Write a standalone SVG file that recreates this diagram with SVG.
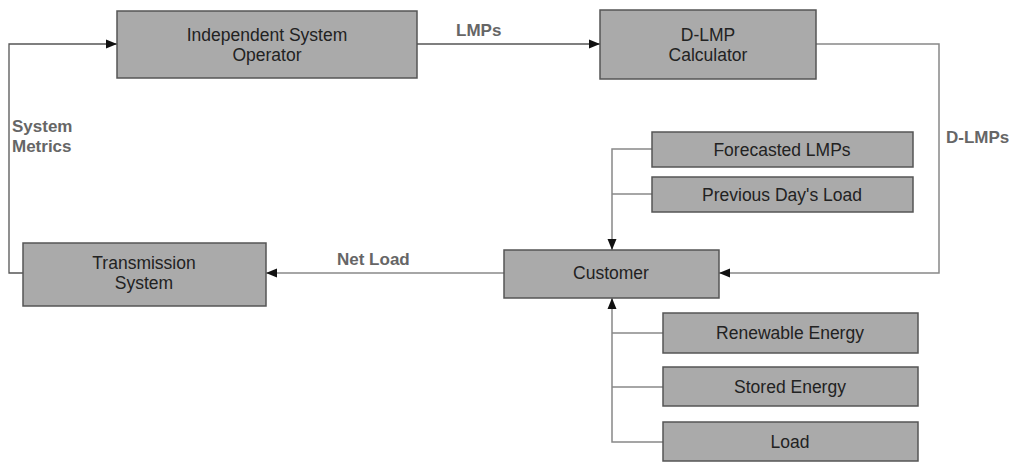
<svg xmlns="http://www.w3.org/2000/svg" width="1013" height="462" viewBox="0 0 1013 462">
  <style>
    .box { fill: #aaaaaa; stroke: #555555; stroke-width: 1.5; }
    .nt { font-family: "Liberation Sans", Arial, sans-serif; font-size: 17.5px; fill: #222222; text-anchor: middle; }
    .lbl { font-family: "Liberation Sans", Arial, sans-serif; font-size: 17px; font-weight: bold; fill: #666666; }
    .ln { fill: none; stroke: #555555; stroke-width: 1.3; }
    .ln2 { fill: none; stroke: #888888; stroke-width: 1.5; }
  </style>
  <defs>
    <marker id="arr" markerUnits="userSpaceOnUse" markerWidth="12" markerHeight="10" refX="11" refY="5" orient="auto">
      <path d="M0,0.5 L11,5 L0,9.5 Z" fill="#111111"/>
    </marker>
  </defs>
  <rect width="1013" height="462" fill="#ffffff"/>

  <g id="connectors">
    <path class="ln" d="M417,44 H600" marker-end="url(#arr)"/>
    <path class="ln2" d="M816,44 H939 V273 H719" marker-end="url(#arr)"/>
    <path class="ln2" d="M504,273 H266" marker-end="url(#arr)"/>
    <path class="ln" d="M23,273 H9 V44 H117" marker-end="url(#arr)"/>
    <path class="ln2" d="M652,149 H612 V250" marker-end="url(#arr)"/>
    <path class="ln2" d="M652,194 H612"/>
    <path class="ln2" d="M663,442 H612 V298" marker-end="url(#arr)"/>
    <path class="ln2" d="M663,333 H612"/>
    <path class="ln2" d="M663,387 H612"/>
  </g>

  <g id="labels">
    <text class="lbl" x="456" y="36">LMPs</text>
    <text class="lbl" x="946" y="143">D-LMPs</text>
    <text class="lbl" x="337" y="265">Net Load</text>
    <text class="lbl" x="12" y="132">System</text>
    <text class="lbl" x="12" y="152">Metrics</text>
  </g>

  <g id="iso">
    <rect class="box" x="117" y="11" width="300" height="67"/>
    <text class="nt" x="267" y="41">Independent System</text>
    <text class="nt" x="267" y="61">Operator</text>
  </g>
  <g id="dlmp">
    <rect class="box" x="600" y="10" width="216" height="69"/>
    <text class="nt" x="708" y="41">D-LMP</text>
    <text class="nt" x="708" y="61">Calculator</text>
  </g>
  <g id="forecasted">
    <rect class="box" x="652" y="132" width="261" height="35"/>
    <text class="nt" x="782" y="156">Forecasted LMPs</text>
  </g>
  <g id="previous">
    <rect class="box" x="652" y="177" width="261" height="35"/>
    <text class="nt" x="782" y="201">Previous Day's Load</text>
  </g>
  <g id="customer">
    <rect class="box" x="504" y="250" width="215" height="48"/>
    <text class="nt" x="611" y="279">Customer</text>
  </g>
  <g id="transmission">
    <rect class="box" x="23" y="243" width="243" height="63"/>
    <text class="nt" x="144" y="269">Transmission</text>
    <text class="nt" x="144" y="289">System</text>
  </g>
  <g id="renewable">
    <rect class="box" x="663" y="313" width="255" height="40"/>
    <text class="nt" x="790" y="339">Renewable Energy</text>
  </g>
  <g id="stored">
    <rect class="box" x="663" y="367" width="255" height="39"/>
    <text class="nt" x="790" y="393">Stored Energy</text>
  </g>
  <g id="load">
    <rect class="box" x="663" y="422" width="255" height="39"/>
    <text class="nt" x="790" y="448">Load</text>
  </g>
</svg>
